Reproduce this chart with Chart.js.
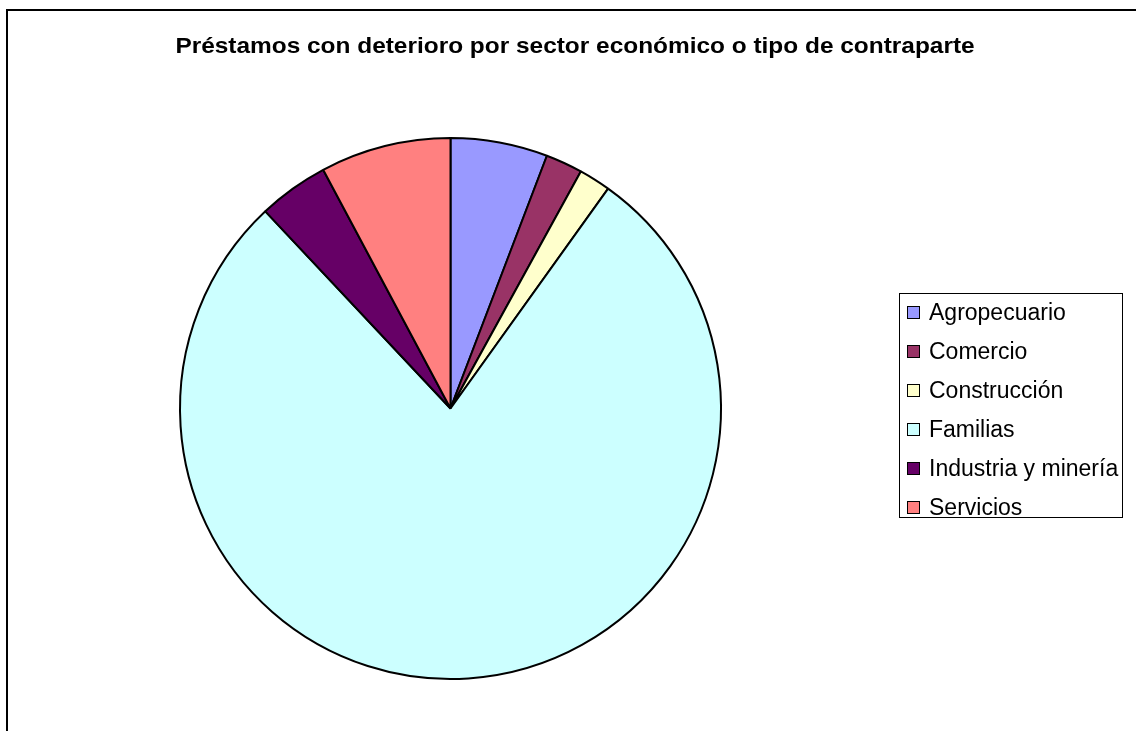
<!DOCTYPE html>
<html>
<head>
<meta charset="utf-8">
<script src="https://cdn.jsdelivr.net/npm/chart.js@4/dist/chart.umd.min.js"></script>
<style>
  html, body { margin: 0; padding: 0; background: #fff; }
  #wrap { width: 1136px; height: 731px; position: relative; }
</style>
</head>
<body>
<div id="wrap"><canvas id="pie-chart"></canvas></div>
<script>
const title = "Préstamos con deterioro por sector económico o tipo de contraparte";
const sectors = ["Agropecuario", "Comercio", "Construcción", "Familias", "Industria y minería", "Servicios"];
const shares = [5.8, 2.2, 1.9, 78.1, 4.2, 7.8];
const colors = ["#9999FF", "#993366", "#FFFFCC", "#CCFFFF", "#660066", "#FF8080"];

const fontFamily = "'Liberation Sans', Arial, sans-serif";

// Frame, title and boxed legend, drawn like the old Excel chart
const excelLook = {
  id: "excelLook",
  beforeDraw(chart) {
    const ctx = chart.ctx;
    ctx.save();
    ctx.strokeStyle = "#000";
    ctx.lineWidth = 2;
    ctx.beginPath();
    ctx.moveTo(7, 740);
    ctx.lineTo(7, 10);
    ctx.lineTo(1140, 10);
    ctx.stroke();

    // title is a bit wider than plain Arial in the original
    ctx.fillStyle = "#000";
    ctx.font = `bold 22px ${fontFamily}`;
    ctx.textAlign = "center";
    ctx.textBaseline = "middle";
    ctx.translate(575, 47);
    ctx.scale(1.11, 1);
    ctx.fillText(title, 0, 0);
    ctx.restore();
  },
  afterDraw(chart) {
    const ctx = chart.ctx;
    const ds = chart.data.datasets[0];
    ctx.save();
    ctx.strokeStyle = "#000";
    ctx.lineWidth = 1;
    ctx.strokeRect(899.5, 293.5, 223, 224);

    ctx.font = `23px ${fontFamily}`;
    ctx.textAlign = "left";
    ctx.textBaseline = "middle";
    chart.data.labels.forEach((label, i) => {
      const y = 313 + i * 39;
      ctx.fillStyle = ds.backgroundColor[i];
      ctx.fillRect(907.5, y - 6.5, 12, 12);
      ctx.strokeRect(907.5, y - 6.5, 12, 12);
      ctx.fillStyle = "#000";
      ctx.fillText(label, 929, y + 1);
    });
    ctx.restore();
  },
};

new Chart(document.querySelector("#pie-chart"), {
  type: "pie",
  data: {
    labels: sectors,
    datasets: [{
      data: shares,
      backgroundColor: colors,
      borderColor: "#000",
      borderWidth: 2,
    }],
  },
  options: {
    responsive: true,
    maintainAspectRatio: false,
    animation: false,
    layout: { padding: { left: 179, top: 137, right: 414, bottom: 51 } },
    plugins: {
      legend: { display: false },
      title: { display: false },
      tooltip: { enabled: false },
    },
  },
  plugins: [excelLook],
});
</script>
</body>
</html>
